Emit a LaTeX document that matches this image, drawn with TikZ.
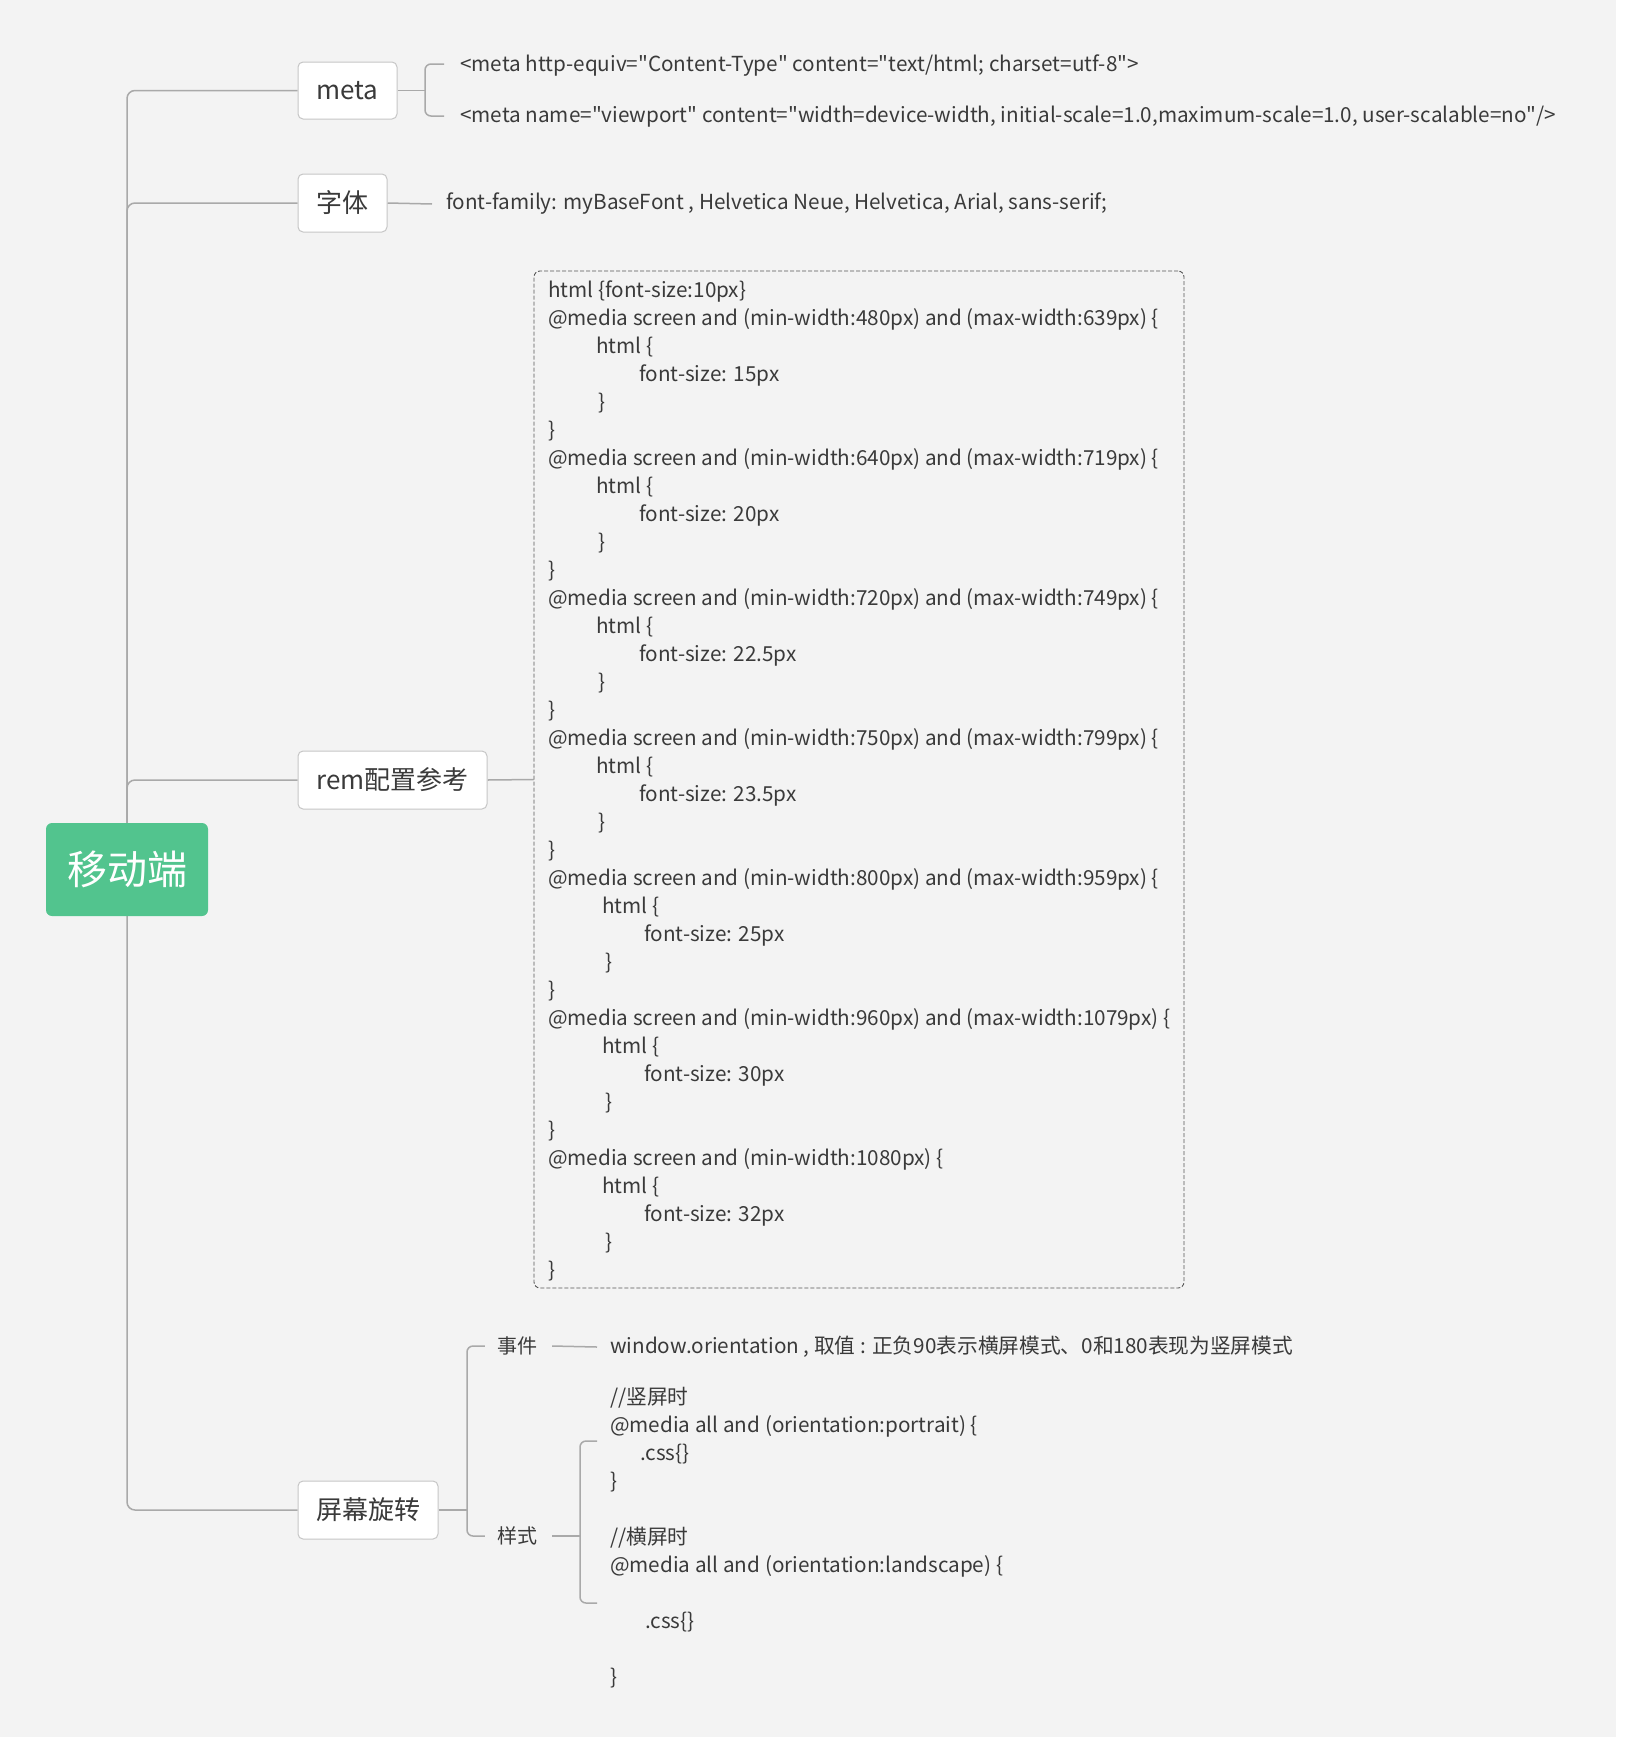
\documentclass[tikz,border=0pt]{standalone}
\usepackage{fontspec}
\newfontfamily\nf{Noto Sans CJK SC}
\usetikzlibrary{calc}
\definecolor{bgc}{HTML}{F3F3F3}
\definecolor{linec}{HTML}{A9A9A9}
\definecolor{boxc}{HTML}{C6C6C6}
\definecolor{txtc}{HTML}{3A3A3A}
\definecolor{rootc}{HTML}{52C48E}
\definecolor{dashc}{HTML}{555555}
\pgfdeclarelayer{bgl}
\pgfdeclarelayer{lines}
\pgfsetlayers{bgl,lines,main}
\tikzset{
  topic/.style={draw=boxc, line width=1pt, fill=white, rounded corners=5pt, text=txtc, font=\nf\fontsize{26}{30}\selectfont, inner sep=0pt},
  rootbox/.style={fill=rootc, rounded corners=6pt, text=white, font=\nf\fontsize{40}{48}\selectfont, inner sep=0pt, minimum width=162pt, minimum height=93pt},
  conn/.style={draw=linec, line width=1.5pt},
  leaf/.style={text=txtc, font=\nf\fontsize{20.7}{28}\selectfont, inner sep=0pt},
  sub/.style={text=txtc, font=\nf\fontsize{20}{28}\selectfont, inner sep=0pt},
  codebox/.style={draw=dashc, line width=0.9pt, dash pattern=on 4pt off 2pt, rounded corners=6pt, inner sep=0pt},
}
\begin{document}
\begin{tikzpicture}[x=1pt,y=-1pt]
\useasboundingbox (0,0) rectangle (1626,1748);
\begin{pgfonlayer}{bgl}
\fill[white] (0,0) rectangle (1626,1748);
\fill[bgc] (0,0) rectangle (1616,1737);
\end{pgfonlayer}

% main topics
\node[rootbox] (root) at (127,869.5) {移动端};
\node[topic, minimum width=99pt, minimum height=57pt] (meta) at (347.5,90.5) {meta};
\node[topic, minimum width=89pt, minimum height=58pt] (font) at (342.5,203) {字体};
\node[topic, minimum width=189pt, minimum height=58pt] (rem) at (392.5,780) {rem配置参考};
\node[topic, minimum width=140pt, minimum height=58pt] (rot) at (368,1510) {屏幕旋转};

% meta children
\node[leaf, anchor=west] (m1) at (460,66) {<meta http-equiv="Content-Type" content="text/html; charset=utf-8">};
\node[leaf, anchor=west] (m2) at (460,117) {<meta name="viewport" content="width=device-width, initial-scale=1.0,maximum-scale=1.0, user-scalable=no"/>};
\coordinate (mb) at (425,90.5);
\coordinate (mbT) at (444,64);
\coordinate (mbB) at (444,116);

% font child
\node[leaf, anchor=west] (fnt) at (446,204) {font-family: myBaseFont , Helvetica Neue, Helvetica, Arial, sans-serif;};

% rem child
\node[codebox, minimum width=650pt, minimum height=1017pt] (code) at (859,779.5) {};
\node[leaf, anchor=north west, align=left] (codetext) at (548,278) {\strut html \{font-size:10px\}\\
@media screen and (min-width:480px) and (max-width:639px) \{\\
\hspace*{48pt}html \{\\
\hspace*{91pt}font-size: 15px\\
\hspace*{50pt}\}\\
\}\\
@media screen and (min-width:640px) and (max-width:719px) \{\\
\hspace*{48pt}html \{\\
\hspace*{91pt}font-size: 20px\\
\hspace*{50pt}\}\\
\}\\
@media screen and (min-width:720px) and (max-width:749px) \{\\
\hspace*{48pt}html \{\\
\hspace*{91pt}font-size: 22.5px\\
\hspace*{50pt}\}\\
\}\\
@media screen and (min-width:750px) and (max-width:799px) \{\\
\hspace*{48pt}html \{\\
\hspace*{91pt}font-size: 23.5px\\
\hspace*{50pt}\}\\
\}\\
@media screen and (min-width:800px) and (max-width:959px) \{\\
\hspace*{54pt}html \{\\
\hspace*{96pt}font-size: 25px\\
\hspace*{57pt}\}\\
\}\\
@media screen and (min-width:960px) and (max-width:1079px) \{\\
\hspace*{54pt}html \{\\
\hspace*{96pt}font-size: 30px\\
\hspace*{57pt}\}\\
\}\\
@media screen and (min-width:1080px) \{\\
\hspace*{54pt}html \{\\
\hspace*{96pt}font-size: 32px\\
\hspace*{57pt}\}\\
\}};

% rotation children
\coordinate (rb) at (467,1510);
\node[sub] (ev) at (517,1346) {事件};
\node[sub] (sty) at (517,1536) {样式};
\node[leaf, anchor=west] (evt) at (610,1347) {window.orientation , 取值 : 正负90表示横屏模式、0和180表现为竖屏模式};
\coordinate (sb) at (580,1536);
\coordinate (sbT) at (597,1441);
\coordinate (sbB) at (597,1603);
\node[leaf, anchor=north west, align=left] (stext) at (610,1385) {\strut //竖屏时\\
@media all and (orientation:portrait) \{\\
\hspace*{30pt}.css\{\}\\
\}\\
\strut\\
//横屏时\\
@media all and (orientation:landscape) \{\\
\strut\\
\hspace*{35pt}.css\{\}\\
\strut\\
\}};

\begin{pgfonlayer}{lines}
\draw[conn, rounded corners=8pt] (root.center) |- (meta.west);
\draw[conn, rounded corners=8pt] (root.center) |- (font.west);
\draw[conn, rounded corners=8pt] (root.center) |- (rem.west);
\draw[conn, rounded corners=8pt] (root.center) |- (rot.west);
\draw[conn] (meta.east) -- (mb);
\draw[conn, rounded corners=6pt] (mbT) -| (mb) |- (mbB);
\draw[conn] (font.east) -- ($(fnt.west)+(-14,0)$);
\draw[conn] (rem.east) -- (code.west);
\draw[conn] (rot.east) -- (rb);
\draw[conn, rounded corners=6pt] ($(ev.west)+(-12,0)$) -| (rb) |- ($(sty.west)+(-12,0)$);
\draw[conn] ($(ev.east)+(15,0)$) -- ($(evt.west)+(-13,0)$);
\draw[conn] ($(sty.east)+(15,0)$) -- (sb);
\draw[conn, rounded corners=6pt] (sbT) -| (sb) |- (sbB);
\end{pgfonlayer}
\end{tikzpicture}
\end{document}
